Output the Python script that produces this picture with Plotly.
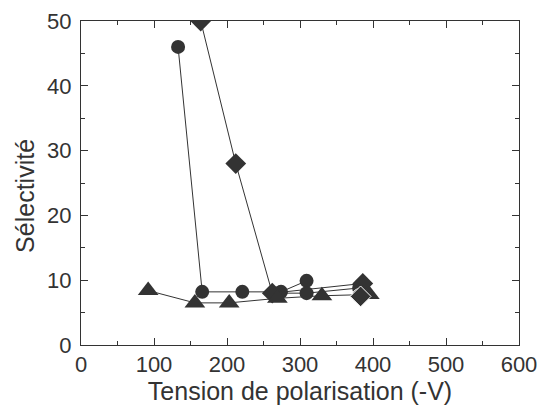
import plotly.graph_objects as go

# Sélectivité en fonction de la tension de polarisation
cercles_x = [133, 166, 221, 274, 309]
cercles_y = [46, 8.2, 8.2, 8.2, 9.9]

cercles2_x = [270, 309, 381]
cercles2_y = [8.0, 8.0, 8.8]

losanges_x = [164, 212, 262, 386]
losanges_y = [50, 28, 8.0, 9.5]

triangles_x = [92, 156, 203, 269, 330, 395]
triangles_y = [8.4, 6.5, 6.5, 7.2, 7.6, 7.8]

# points isolés
extra_x = [381, 383]
extra_y = [7.6, 7.5]
extra_symbol = ['circle', 'diamond']

SOMBRE = '#333333'
POLICE = 'Liberation Sans, Arial, sans-serif'

fig = go.Figure()

ligne = dict(color=SOMBRE, width=1)

fig.add_trace(go.Scatter(
    x=cercles_x, y=cercles_y, mode='lines+markers',
    line=ligne, marker=dict(symbol='circle', size=14, color=SOMBRE, opacity=1),
))
fig.add_trace(go.Scatter(
    x=cercles2_x, y=cercles2_y, mode='lines+markers',
    line=ligne, marker=dict(symbol='circle', size=14, color=SOMBRE, opacity=1),
))
fig.add_trace(go.Scatter(
    x=losanges_x, y=losanges_y, mode='lines+markers',
    line=ligne, marker=dict(symbol='diamond', size=16, color=SOMBRE, opacity=1),
))
fig.add_trace(go.Scatter(
    x=triangles_x, y=triangles_y, mode='lines+markers',
    line=ligne, marker=dict(symbol='triangle-up', size=18, color=SOMBRE, opacity=1),
))
fig.add_trace(go.Scatter(
    x=extra_x, y=extra_y, mode='markers',
    marker=dict(symbol=extra_symbol, size=[14, 16], color=SOMBRE, opacity=1),
))

axe = dict(
    showline=True, linecolor=SOMBRE, linewidth=1, mirror='allticks',
    ticks='inside', ticklen=7, tickcolor=SOMBRE, tickwidth=1,
    showgrid=False, zeroline=False, automargin=False,
    tickfont=dict(size=22, color=SOMBRE, family=POLICE),
)

fig.update_xaxes(
    **axe, range=[0, 600], dtick=100, ticklabelstandoff=0,
    minor=dict(ticks='inside', ticklen=4, dtick=50, tickcolor=SOMBRE, showgrid=False),
    title=dict(text='Tension de polarisation (-V)', font=dict(size=25, color=SOMBRE, family=POLICE), standoff=4),
)
fig.update_yaxes(
    **axe, range=[0, 50], dtick=10, ticklabelstandoff=4,
    minor=dict(ticks='inside', ticklen=4, dtick=5, tickcolor=SOMBRE, showgrid=False),
)

# titre vertical placé à la main
fig.add_annotation(
    text='Sélectivité', textangle=-90, showarrow=False,
    xref='paper', yref='paper', x=-0.128, y=0.46,
    xanchor='center', yanchor='middle',
    font=dict(size=25, color=SOMBRE, family=POLICE),
)

# la page ajoute une marge de 8 px autour de la figure
fig.update_layout(
    width=530, height=400,
    margin=dict(l=73, r=19, t=13, b=63),
    plot_bgcolor='white', paper_bgcolor='white',
    showlegend=False,
)

fig.write_html("out.html")
